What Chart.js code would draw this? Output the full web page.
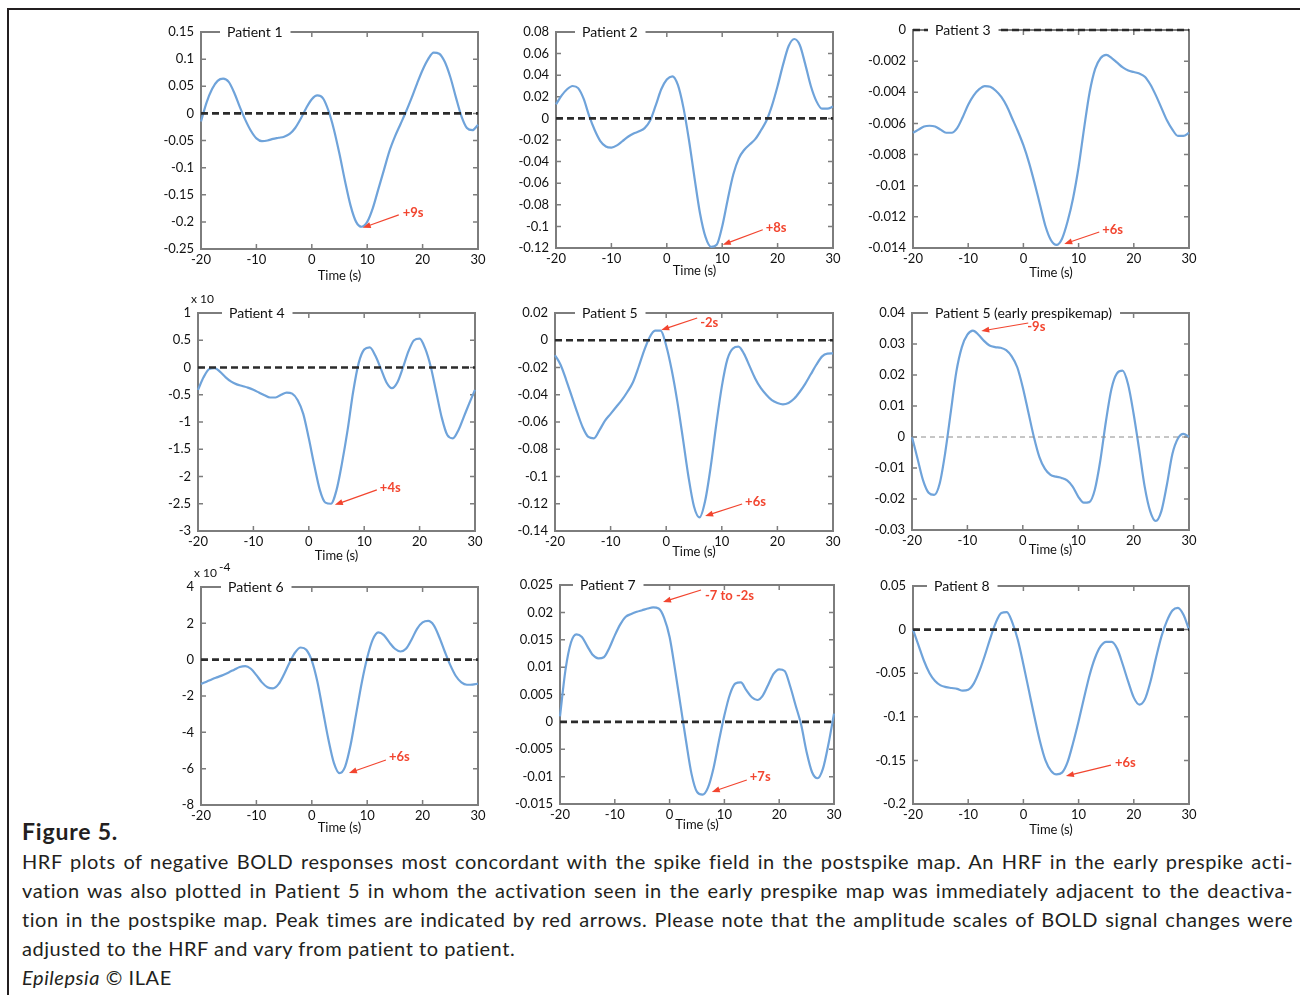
<!DOCTYPE html>
<html>
<head>
<meta charset="utf-8">
<script src="https://cdn.jsdelivr.net/npm/chart.js@4.4.1/dist/chart.umd.min.js"></script>
<style>
body{margin:0;background:#fff;width:1300px;height:995px;position:relative;overflow:hidden;font-family:Lato,sans-serif;color:#231f20}
.frameTop{position:absolute;left:7px;top:8px;width:1293px;height:2px;background:#231f20}
.frameLeft{position:absolute;left:7px;top:8px;width:2px;height:987px;background:#231f20}
canvas{position:absolute}
#fig{position:absolute;left:22px;top:818px;font-weight:bold;font-size:23px;letter-spacing:0.8px;line-height:26px}
.cap{position:absolute;left:22px;width:1271px;font-size:20px;letter-spacing:0.55px;line-height:29px;white-space:nowrap;text-align:justify;text-align-last:justify}
.cap.last{text-align:left;text-align-last:left}
</style>
</head>
<body>
<div class="frameTop"></div>
<div class="frameLeft"></div>

<div id="fig">Figure 5.</div>
<div class="cap" style="top:847px">HRF plots of negative BOLD responses most concordant with the spike field in the postspike map. An HRF in the early prespike acti-</div>
<div class="cap" style="top:876px">vation was also plotted in Patient 5 in whom the activation seen in the early prespike map was immediately adjacent to the deactiva-</div>
<div class="cap" style="top:905px">tion in the postspike map. Peak times are indicated by red arrows. Please note that the amplitude scales of BOLD signal changes were</div>
<div class="cap last" style="top:934px">adjusted to the HRF and vary from patient to patient.</div>
<div class="cap last" style="top:963px"><i>Epilepsia</i> &copy; ILAE</div>

<script>
// time axis (s), one sample per second
const times = [-20,-19,-18,-17,-16,-15,-14,-13,-12,-11,-10,-9,-8,-7,-6,-5,-4,-3,-2,-1,0,1,2,3,4,5,6,7,8,9,10,11,12,13,14,15,16,17,18,19,20,21,22,23,24,25,26,27,28,29,30];

// HRF curves
const patient1 = [-0.015,0.02,0.045,0.06,0.064,0.058,0.038,0.012,-0.012,-0.032,-0.046,-0.051,-0.05,-0.047,-0.045,-0.043,-0.038,-0.027,-0.01,0.01,0.026,0.033,0.028,0.005,-0.03,-0.075,-0.125,-0.17,-0.2,-0.209,-0.2,-0.175,-0.14,-0.105,-0.07,-0.043,-0.02,0.003,0.028,0.055,0.08,0.1,0.112,0.11,0.095,0.067,0.03,-0.005,-0.027,-0.031,-0.021];
const patient2 = [0.013,0.021,0.027,0.03,0.028,0.018,0.002,-0.011,-0.021,-0.026,-0.027,-0.025,-0.021,-0.017,-0.014,-0.012,-0.009,-0.002,0.012,0.027,0.036,0.039,0.031,0.01,-0.02,-0.055,-0.088,-0.11,-0.119,-0.117,-0.1,-0.075,-0.052,-0.037,-0.029,-0.024,-0.019,-0.011,-0.002,0.012,0.03,0.05,0.067,0.0735,0.068,0.05,0.03,0.016,0.009,0.009,0.011];
const patient3 = [-0.0066,-0.0064,-0.0062,-0.00615,-0.0062,-0.0064,-0.0066,-0.0066,-0.0063,-0.0056,-0.0048,-0.0042,-0.0038,-0.0036,-0.00365,-0.0039,-0.0043,-0.0049,-0.0057,-0.0065,-0.0074,-0.0085,-0.0098,-0.0112,-0.0126,-0.0135,-0.0138,-0.0134,-0.0123,-0.0108,-0.0088,-0.0063,-0.004,-0.0025,-0.0018,-0.0016,-0.0018,-0.0021,-0.0024,-0.0026,-0.0027,-0.0028,-0.003,-0.0035,-0.0042,-0.005,-0.0058,-0.0064,-0.0068,-0.0068,-0.0066];
const patient4 = [-0.41,-0.18,-0.03,-0.01,-0.08,-0.18,-0.26,-0.31,-0.34,-0.37,-0.41,-0.46,-0.51,-0.55,-0.55,-0.5,-0.46,-0.48,-0.6,-0.85,-1.3,-1.8,-2.25,-2.48,-2.5,-2.25,-1.75,-1.15,-0.45,0.08,0.33,0.37,0.22,-0.02,-0.27,-0.38,-0.27,0,0.3,0.5,0.53,0.35,0.02,-0.45,-0.92,-1.24,-1.3,-1.15,-0.9,-0.65,-0.41];
const patient5 = [-0.011,-0.018,-0.029,-0.041,-0.053,-0.064,-0.071,-0.072,-0.066,-0.059,-0.054,-0.049,-0.044,-0.038,-0.031,-0.02,-0.008,0.002,0.007,0.007,-0.004,-0.022,-0.045,-0.072,-0.1,-0.122,-0.13,-0.118,-0.093,-0.062,-0.034,-0.014,-0.006,-0.0047,-0.01,-0.019,-0.028,-0.035,-0.04,-0.044,-0.046,-0.047,-0.046,-0.043,-0.038,-0.032,-0.025,-0.018,-0.012,-0.0098,-0.0096];
const patient5early = [0,-0.007,-0.014,-0.018,-0.0187,-0.015,-0.005,0.008,0.021,0.029,0.033,0.0343,0.033,0.031,0.0295,0.029,0.0288,0.028,0.026,0.0225,0.016,0.008,0,-0.0065,-0.0103,-0.0122,-0.0128,-0.0132,-0.014,-0.016,-0.0192,-0.0212,-0.021,-0.017,-0.0075,0.005,0.0155,0.0205,0.0214,0.017,0.0075,-0.004,-0.016,-0.024,-0.0271,-0.024,-0.0155,-0.0055,-0.0005,0.001,0];
const patient6 = [-1.34,-1.21,-1.08,-0.96,-0.84,-0.7,-0.55,-0.4,-0.35,-0.5,-0.85,-1.25,-1.52,-1.58,-1.35,-0.8,-0.15,0.4,0.67,0.55,-0.05,-1.2,-2.8,-4.4,-5.7,-6.25,-5.9,-4.7,-3,-1.3,0.1,1.1,1.5,1.35,0.95,0.6,0.45,0.6,1.1,1.7,2.05,2.13,1.9,1.25,0.45,-0.3,-0.9,-1.25,-1.38,-1.37,-1.32];
const patient7 = [0.001,0.0095,0.0145,0.016,0.0155,0.0138,0.0122,0.0116,0.0118,0.0135,0.0158,0.0178,0.0192,0.0197,0.0201,0.0204,0.0207,0.0209,0.0207,0.019,0.0155,0.0095,0.003,-0.0035,-0.0095,-0.0128,-0.0133,-0.012,-0.0085,-0.0035,0.0012,0.005,0.007,0.0072,0.0058,0.0045,0.004,0.0048,0.0068,0.0088,0.0096,0.0093,0.0065,0.003,-0.0005,-0.0055,-0.0092,-0.0103,-0.0085,-0.004,0.0015];
const patient8 = [0,-0.018,-0.036,-0.05,-0.059,-0.064,-0.066,-0.067,-0.068,-0.07,-0.069,-0.062,-0.048,-0.03,-0.01,0.008,0.019,0.02,0.008,-0.012,-0.04,-0.07,-0.1,-0.128,-0.15,-0.162,-0.166,-0.164,-0.152,-0.13,-0.105,-0.078,-0.052,-0.032,-0.019,-0.014,-0.014,-0.022,-0.04,-0.06,-0.078,-0.086,-0.08,-0.06,-0.033,-0.008,0.01,0.022,0.025,0.017,0];

const series = [patient1, patient2, patient3, patient4, patient5, patient5early, patient6, patient7, patient8];
const titles = ['Patient 1','Patient 2','Patient 3','Patient 4','Patient 5','Patient 5 (early prespikemap)','Patient 6','Patient 7','Patient 8'];

// y axis: min, max, step
const yMin  = [-0.25, -0.12, -0.014, -3, -0.14, -0.03, -8, -0.015, -0.2];
const yMax  = [ 0.15,  0.08,  0,      1,  0.02,  0.04,  4,  0.025,  0.05];
const yStep = [ 0.05,  0.02,  0.002,  0.5, 0.02, 0.01,  2,  0.005,  0.05];
const xTicks = [-20, -10, 0, 10, 20, 30];

// peak markers: time, value at arrow tip, label
const peaks = [
  [{t:9.2, v:-0.211, label:'+9s'}],
  [{t:10.1, v:-0.117, label:'+8s'}],
  [{t:7.4, v:-0.01374, label:'+6s'}],
  [{t:4.7, v:-2.52, label:'+4s'}],
  [{t:-0.9, v:0.0075, label:'-2s'}, {t:7.0, v:-0.129, label:'+6s'}],
  [{t:-7.5, v:0.0342, label:'-9s'}],
  [{t:6.7, v:-6.24, label:'+6s'}],
  [{t:-1.2, v:0.0219, label:'-7 to -2s'}, {t:7.7, v:-0.0128, label:'+7s'}],
  [{t:7.7, v:-0.168, label:'+6s'}]
];

// layout of each panel (plot area in page px) and arrow offsets [tailDx, tailDy, textDx, textDy]
const panels = [
  {left:201, top:32,  w:277, h:217, tOff:27, tx:26, arrows:[[36,-13,40,-15]]},
  {left:556, top:32,  w:277, h:216, tOff:23, tx:26, arrows:[[40,-15,43,-17]]},
  {left:913, top:30,  w:276, h:218, tOff:25, tx:22, arrows:[[35,-12,38,-14]]},
  {left:198, top:313, w:277, h:218, tOff:25, tx:31, expo:'x 10', arrows:[[42,-15,45,-17]]},
  {left:555, top:313, w:278, h:218, tOff:21, tx:27, arrows:[[36,-12,39,-7],[37,-12,40,-14]]},
  {left:912, top:313, w:277, h:217, tOff:20, tx:23, thinZero:true, arrows:[[47,-8,46,-4]]},
  {left:201, top:587, w:277, h:218, tOff:23, tx:27, expo:'x 10', sup:'-4', arrows:[[37,-13,40,-16]]},
  {left:560, top:585, w:274, h:219, tOff:21, tx:20, arrows:[[38,-12,42,-6],[35,-12,38,-15]]},
  {left:913, top:586, w:276, h:218, tOff:26, tx:21, arrows:[[45,-11,49,-13]]}
];

const PADL = 70, PADT = 28, PADR = 15, PADB = 45;
const FONT = 'Lato';
const AXIS = '#7d7d7d';
const RED = '#f2452f';

function fmt(v){
  let s = String(+(+v).toFixed(6));
  return s === '-0' ? '0' : s;
}

function framePlugin(p, idx){
  return {
    id:'frame'+idx,
    beforeDatasetsDraw(chart){
      const ctx = chart.ctx, a = chart.chartArea;
      ctx.save();
      ctx.strokeStyle = AXIS;
      ctx.lineWidth = 2;
      ctx.strokeRect(a.left, a.top, a.right - a.left, a.bottom - a.top);
      // inward tick marks on all four sides
      ctx.lineWidth = 1.5;
      ctx.beginPath();
      chart.scales.x.ticks.forEach(tk => {
        const x = chart.scales.x.getPixelForValue(tk.value);
        ctx.moveTo(x, a.bottom); ctx.lineTo(x, a.bottom - 5);
        ctx.moveTo(x, a.top); ctx.lineTo(x, a.top + 5);
      });
      chart.scales.y.ticks.forEach(tk => {
        const y = chart.scales.y.getPixelForValue(tk.value);
        ctx.moveTo(a.left, y); ctx.lineTo(a.left + 5, y);
        ctx.moveTo(a.right, y); ctx.lineTo(a.right - 5, y);
      });
      ctx.stroke();
      ctx.restore();
    },
    afterDatasetsDraw(chart){
      const ctx = chart.ctx, a = chart.chartArea;
      const xs = chart.scales.x, ys = chart.scales.y;
      ctx.save();
      // panel title sitting on the top border
      ctx.font = '14px ' + FONT;
      const tw = ctx.measureText(titles[idx]).width;
      ctx.fillStyle = '#fff';
      ctx.fillRect(a.left + p.tx - 7, a.top - 4, tw + 15, 8);
      ctx.fillStyle = '#111';
      ctx.textBaseline = 'middle';
      ctx.fillText(titles[idx], a.left + p.tx, a.top);
      // scale multiplier
      if (p.expo){
        ctx.font = '12px ' + FONT;
        ctx.fillText(p.expo, a.left - 7, a.top - 14);
        if (p.sup){
          const ew = ctx.measureText(p.expo).width;
          ctx.fillText(p.sup, a.left - 7 + ew + 2, a.top - 20);
        }
      }
      // red peak arrows
      peaks[idx].forEach((pk, k) => {
        const off = p.arrows[k];
        const x0 = xs.getPixelForValue(pk.t), y0 = ys.getPixelForValue(pk.v);
        const x1 = x0 + off[0], y1 = y0 + off[1];
        const ang = Math.atan2(y0 - y1, x0 - x1);
        ctx.strokeStyle = RED; ctx.fillStyle = RED; ctx.lineWidth = 1.2;
        ctx.beginPath(); ctx.moveTo(x1, y1); ctx.lineTo(x0 - 6*Math.cos(ang), y0 - 6*Math.sin(ang)); ctx.stroke();
        ctx.beginPath();
        ctx.moveTo(x0, y0);
        ctx.lineTo(x0 - 8*Math.cos(ang) + 3*Math.sin(ang), y0 - 8*Math.sin(ang) - 3*Math.cos(ang));
        ctx.lineTo(x0 - 8*Math.cos(ang) - 3*Math.sin(ang), y0 - 8*Math.sin(ang) + 3*Math.cos(ang));
        ctx.closePath(); ctx.fill();
        ctx.font = 'bold 13px ' + FONT;
        ctx.textBaseline = 'middle';
        ctx.fillText(pk.label, x0 + off[2], y0 + off[3]);
      });
      ctx.restore();
    }
  };
}

panels.forEach((p, i) => {
  const W = p.w + PADL + PADR, H = p.h + PADT + PADB;
  const cv = document.createElement('canvas');
  cv.width = W; cv.height = H;
  cv.style.left = (p.left - PADL) + 'px';
  cv.style.top = (p.top - PADT) + 'px';
  cv.style.width = W + 'px'; cv.style.height = H + 'px';
  document.body.appendChild(cv);

  const curve = times.map((t, k) => ({x:t, y:series[i][k]}));
  const zero = [{x:xTicks[0], y:0}, {x:xTicks[xTicks.length-1], y:0}];

  new Chart(cv, {
    type:'line',
    data:{datasets:[
      {data:zero, borderColor:p.thinZero ? '#8c8c8c' : '#2b2b2b', borderWidth:p.thinZero ? 1 : 2.6,
       borderDash:p.thinZero ? [5,4] : [7,4], pointRadius:0, clip:4},
      {data:curve, borderColor:'#6fa3da', borderWidth:2.2, pointRadius:0,
       cubicInterpolationMode:'monotone', clip:4}
    ]},
    options:{
      responsive:false, animation:false,
      layout:{padding:{top:PADT, right:PADR, left:0, bottom:0}},
      plugins:{legend:{display:false}, tooltip:{enabled:false}},
      scales:{
        x:{type:'linear', min:xTicks[0], max:xTicks[xTicks.length-1],
           afterFit:s => { s.height = PADB; },
           afterBuildTicks:s => { s.ticks = xTicks.map(v => ({value:v})); },
           grid:{display:false, drawTicks:false}, border:{display:false},
           ticks:{padding:3, color:'#111', maxRotation:0, autoSkip:false, font:{family:FONT, size:13}, callback:fmt},
           title:{display:true, text:'Time (s)', color:'#111', font:{family:FONT, size:13},
                  padding:{top:0, bottom:PADB - 7.8 - p.tOff}}},
        y:{min:yMin[i], max:yMax[i],
           afterFit:s => { s.width = PADL; },
           grid:{display:false, drawTicks:false}, border:{display:false},
           ticks:{stepSize:yStep[i], padding:7, autoSkip:false, color:'#111', font:{family:FONT, size:13}, callback:fmt}}
      }
    },
    plugins:[framePlugin(p, i)]
  });
});
</script>
</body>
</html>
